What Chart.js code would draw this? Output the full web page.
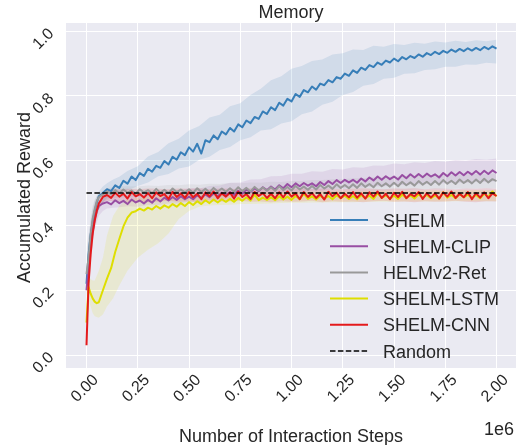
<!DOCTYPE html>
<html><head><meta charset="utf-8">
<script src="https://cdn.jsdelivr.net/npm/chart.js@4.4.1/dist/chart.umd.min.js"></script>
<style>html,body{margin:0;padding:0;background:#fff}canvas{display:block}</style>
</head><body>
<canvas id="c" width="516" height="445"></canvas>
<script>
// x values in units of 1e6 interaction steps
const steps = [0, 0.01, 0.02, 0.03, 0.04, 0.05, 0.06, 0.08,
 0.10, 0.12, 0.14, 0.16, 0.18, 0.20, 0.22, 0.24, 0.26, 0.28,
 0.30, 0.32, 0.34, 0.36, 0.38, 0.40, 0.42, 0.44, 0.46, 0.48,
 0.50, 0.52, 0.54, 0.56, 0.58, 0.60, 0.62, 0.64, 0.66, 0.68,
 0.70, 0.72, 0.74, 0.76, 0.78, 0.80, 0.82, 0.84, 0.86, 0.88,
 0.90, 0.92, 0.94, 0.96, 0.98, 1.00, 1.02, 1.04, 1.06, 1.08,
 1.10, 1.12, 1.14, 1.16, 1.18, 1.20, 1.22, 1.24, 1.26, 1.28,
 1.30, 1.32, 1.34, 1.36, 1.38, 1.40, 1.42, 1.44, 1.46, 1.48,
 1.50, 1.52, 1.54, 1.56, 1.58, 1.60, 1.62, 1.64, 1.66, 1.68,
 1.70, 1.72, 1.74, 1.76, 1.78, 1.80, 1.82, 1.84, 1.86, 1.88,
 1.90, 1.92, 1.94, 1.96, 1.98, 2.00];

const shelm = [0.22, 0.31, 0.37, 0.41, 0.445, 0.47, 0.49, 0.50,
 0.512, 0.506, 0.524, 0.516, 0.538, 0.529, 0.551, 0.540, 0.562, 0.553,
 0.575, 0.566, 0.584, 0.578, 0.599, 0.588, 0.612, 0.603, 0.626, 0.617,
 0.641, 0.628, 0.652, 0.622, 0.663, 0.657, 0.678, 0.666, 0.690, 0.681,
 0.701, 0.690, 0.712, 0.703, 0.724, 0.716, 0.735, 0.729, 0.752, 0.744,
 0.765, 0.756, 0.779, 0.770, 0.791, 0.783, 0.806, 0.797, 0.818, 0.811,
 0.829, 0.819, 0.838, 0.833, 0.849, 0.842, 0.858, 0.853, 0.869, 0.862,
 0.879, 0.871, 0.887, 0.880, 0.895, 0.889, 0.903, 0.896, 0.909, 0.903,
 0.915, 0.907, 0.920, 0.913, 0.923, 0.917, 0.928, 0.921, 0.932, 0.926,
 0.936, 0.929, 0.939, 0.933, 0.943, 0.936, 0.945, 0.938, 0.947, 0.940,
 0.948, 0.941, 0.951, 0.944, 0.953, 0.946];

const shelmClip = [0.20, 0.27, 0.34, 0.38, 0.42, 0.445, 0.46, 0.468,
 0.472, 0.465, 0.478, 0.469, 0.476, 0.466, 0.480, 0.471, 0.477, 0.468,
 0.479, 0.470, 0.484, 0.474, 0.486, 0.477, 0.488, 0.479, 0.490, 0.481,
 0.489, 0.481, 0.493, 0.485, 0.496, 0.487, 0.499, 0.490, 0.501, 0.493,
 0.503, 0.494, 0.507, 0.498, 0.511, 0.503, 0.515, 0.506, 0.518, 0.509,
 0.520, 0.511, 0.524, 0.515, 0.528, 0.518, 0.530, 0.521, 0.531, 0.523,
 0.530, 0.521, 0.534, 0.525, 0.537, 0.528, 0.540, 0.531, 0.541, 0.533,
 0.541, 0.532, 0.545, 0.536, 0.548, 0.539, 0.551, 0.541, 0.552, 0.543,
 0.551, 0.542, 0.556, 0.546, 0.558, 0.548, 0.559, 0.549, 0.560, 0.551,
 0.558, 0.548, 0.562, 0.552, 0.564, 0.554, 0.565, 0.555, 0.566, 0.557,
 0.568, 0.557, 0.569, 0.559, 0.570, 0.562];

const helmRet = [0.25, 0.30, 0.37, 0.42, 0.45, 0.475, 0.487, 0.496,
 0.505, 0.497, 0.509, 0.499, 0.511, 0.501, 0.508, 0.498, 0.512, 0.502,
 0.509, 0.499, 0.513, 0.501, 0.510, 0.500, 0.514, 0.503, 0.511, 0.502,
 0.512, 0.501, 0.515, 0.503, 0.513, 0.502, 0.516, 0.505, 0.514, 0.504,
 0.515, 0.504, 0.518, 0.506, 0.516, 0.505, 0.519, 0.508, 0.517, 0.507,
 0.518, 0.507, 0.521, 0.509, 0.519, 0.508, 0.522, 0.511, 0.520, 0.510,
 0.522, 0.511, 0.525, 0.514, 0.523, 0.513, 0.527, 0.516, 0.525, 0.515,
 0.527, 0.516, 0.530, 0.519, 0.528, 0.518, 0.532, 0.521, 0.530, 0.520,
 0.532, 0.521, 0.535, 0.524, 0.533, 0.523, 0.537, 0.526, 0.535, 0.525,
 0.537, 0.526, 0.540, 0.529, 0.538, 0.528, 0.542, 0.531, 0.540, 0.530,
 0.542, 0.531, 0.544, 0.533, 0.543, 0.537];

const shelmLstm = [0.10, 0.21, 0.19, 0.175, 0.165, 0.16, 0.163, 0.20,
 0.236, 0.268, 0.318, 0.358, 0.397, 0.424, 0.440, 0.444, 0.452, 0.446,
 0.455, 0.449, 0.460, 0.452, 0.462, 0.455, 0.466, 0.458, 0.469, 0.460,
 0.472, 0.463, 0.475, 0.466, 0.478, 0.469, 0.480, 0.471, 0.481, 0.473,
 0.482, 0.473, 0.485, 0.476, 0.487, 0.477, 0.495, 0.478, 0.486, 0.479,
 0.487, 0.478, 0.490, 0.480, 0.489, 0.479, 0.491, 0.481, 0.498, 0.482,
 0.490, 0.480, 0.492, 0.483, 0.491, 0.481, 0.493, 0.484, 0.492, 0.482,
 0.491, 0.481, 0.494, 0.484, 0.492, 0.482, 0.500, 0.485, 0.493, 0.483,
 0.492, 0.482, 0.495, 0.485, 0.493, 0.483, 0.496, 0.486, 0.494, 0.484,
 0.493, 0.483, 0.502, 0.486, 0.494, 0.484, 0.497, 0.487, 0.495, 0.485,
 0.494, 0.484, 0.498, 0.488, 0.505, 0.490];

const shelmCnn = [0.03, 0.22, 0.31, 0.375, 0.415, 0.445, 0.468, 0.488,
 0.494, 0.485, 0.501, 0.489, 0.498, 0.483, 0.503, 0.490, 0.497, 0.486,
 0.500, 0.484, 0.502, 0.491, 0.497, 0.482, 0.504, 0.488, 0.499, 0.485,
 0.503, 0.487, 0.498, 0.481, 0.502, 0.490, 0.505, 0.484, 0.499, 0.489,
 0.501, 0.483, 0.504, 0.488, 0.497, 0.482, 0.503, 0.491, 0.500, 0.485,
 0.498, 0.484, 0.502, 0.487, 0.505, 0.489, 0.499, 0.481, 0.503, 0.488,
 0.500, 0.485, 0.497, 0.480, 0.504, 0.490, 0.501, 0.484, 0.498, 0.487,
 0.503, 0.486, 0.499, 0.483, 0.502, 0.489, 0.505, 0.485, 0.498, 0.481,
 0.501, 0.488, 0.504, 0.484, 0.497, 0.490, 0.503, 0.482, 0.500, 0.486,
 0.499, 0.483, 0.502, 0.489, 0.505, 0.485, 0.498, 0.487, 0.503, 0.481,
 0.500, 0.486, 0.502, 0.484, 0.499, 0.491];

// confidence bands (x in 1e6 steps)
const bandSteps = [0, 0.01, 0.02, 0.03, 0.04, 0.06, 0.08, 0.10, 0.13, 0.16,
 0.20, 0.25, 0.30, 0.35, 0.40, 0.45, 0.50, 0.55, 0.60, 0.65,
 0.70, 0.75, 0.80, 0.85, 0.90, 0.95, 1.00, 1.05, 1.10, 1.15,
 1.20, 1.25, 1.30, 1.35, 1.40, 1.45, 1.50, 1.55, 1.60, 1.65,
 1.70, 1.75, 1.80, 1.85, 1.90, 1.95, 2.00];

const shelmHi = [0.28, 0.36, 0.41, 0.45, 0.475, 0.505, 0.52, 0.53, 0.542, 0.55,
 0.568, 0.583, 0.613, 0.627, 0.654, 0.668, 0.693, 0.707, 0.733, 0.742,
 0.768, 0.777, 0.803, 0.822, 0.848, 0.861, 0.884, 0.892, 0.908, 0.912,
 0.928, 0.932, 0.943, 0.942, 0.955, 0.952, 0.960, 0.957, 0.964, 0.961,
 0.968, 0.965, 0.970, 0.966, 0.972, 0.969, 0.973];
const shelmLo = [0.16, 0.25, 0.32, 0.37, 0.41, 0.45, 0.47, 0.485, 0.494, 0.50,
 0.508, 0.522, 0.533, 0.552, 0.559, 0.576, 0.582, 0.603, 0.612, 0.633,
 0.642, 0.663, 0.672, 0.693, 0.697, 0.715, 0.722, 0.743, 0.752, 0.773,
 0.782, 0.803, 0.812, 0.831, 0.837, 0.853, 0.856, 0.868, 0.870, 0.880,
 0.882, 0.890, 0.890, 0.897, 0.896, 0.902, 0.900];

const clipHi = [0.26, 0.32, 0.38, 0.42, 0.45, 0.475, 0.485, 0.49, 0.493, 0.494,
 0.497, 0.495, 0.502, 0.501, 0.508, 0.507, 0.515, 0.514, 0.522, 0.523,
 0.532, 0.533, 0.542, 0.543, 0.552, 0.553, 0.560, 0.560, 0.567, 0.566,
 0.574, 0.573, 0.580, 0.578, 0.585, 0.584, 0.591, 0.589, 0.595, 0.593,
 0.599, 0.597, 0.602, 0.600, 0.605, 0.603, 0.607];
const clipLo = [0.15, 0.22, 0.29, 0.34, 0.39, 0.43, 0.445, 0.452, 0.455, 0.456,
 0.459, 0.458, 0.463, 0.463, 0.468, 0.468, 0.473, 0.473, 0.479, 0.479,
 0.485, 0.485, 0.491, 0.492, 0.498, 0.498, 0.503, 0.503, 0.508, 0.508,
 0.513, 0.513, 0.517, 0.517, 0.521, 0.521, 0.525, 0.525, 0.528, 0.527,
 0.531, 0.530, 0.533, 0.532, 0.535, 0.534, 0.537];

const retHi = [0.33, 0.37, 0.42, 0.46, 0.48, 0.50, 0.508, 0.515, 0.518, 0.52,
 0.521, 0.520, 0.523, 0.522, 0.525, 0.524, 0.527, 0.526, 0.529, 0.528,
 0.531, 0.530, 0.533, 0.532, 0.535, 0.534, 0.537, 0.537, 0.540, 0.540,
 0.543, 0.543, 0.546, 0.546, 0.549, 0.548, 0.551, 0.551, 0.553, 0.553,
 0.555, 0.555, 0.557, 0.557, 0.559, 0.558, 0.561];
const retLo = [0.18, 0.24, 0.31, 0.37, 0.41, 0.45, 0.47, 0.48, 0.484, 0.486,
 0.487, 0.488, 0.489, 0.490, 0.490, 0.491, 0.491, 0.492, 0.492, 0.493,
 0.494, 0.494, 0.495, 0.496, 0.497, 0.497, 0.498, 0.499, 0.500, 0.501,
 0.502, 0.503, 0.504, 0.505, 0.506, 0.507, 0.508, 0.509, 0.510, 0.511,
 0.512, 0.512, 0.513, 0.514, 0.514, 0.515, 0.515];

const lstmHi = [0.14, 0.24, 0.235, 0.23, 0.23, 0.26, 0.30, 0.37, 0.43, 0.46,
 0.48, 0.485, 0.488, 0.49, 0.492, 0.494, 0.496, 0.497, 0.498, 0.499,
 0.50, 0.50, 0.501, 0.502, 0.502, 0.503, 0.503, 0.504, 0.504, 0.505,
 0.505, 0.505, 0.506, 0.506, 0.506, 0.507, 0.507, 0.507, 0.507, 0.508,
 0.508, 0.508, 0.508, 0.509, 0.509, 0.509, 0.510];
const lstmLo = [0.06, 0.17, 0.15, 0.13, 0.12, 0.115, 0.125, 0.15, 0.175, 0.215,
 0.26, 0.30, 0.325, 0.345, 0.375, 0.42, 0.445, 0.458, 0.462, 0.463,
 0.464, 0.466, 0.466, 0.467, 0.468, 0.469, 0.470, 0.470, 0.471, 0.471,
 0.472, 0.472, 0.472, 0.473, 0.473, 0.473, 0.473, 0.474, 0.474, 0.474,
 0.474, 0.474, 0.475, 0.475, 0.475, 0.475, 0.475];

const cnnHi = [0.05, 0.26, 0.34, 0.40, 0.435, 0.485, 0.503, 0.51, 0.512, 0.512,
 0.513, 0.512, 0.514, 0.513, 0.512, 0.514, 0.513, 0.515, 0.512, 0.514,
 0.513, 0.512, 0.515, 0.513, 0.514, 0.512, 0.513, 0.515, 0.512, 0.514,
 0.513, 0.512, 0.514, 0.515, 0.513, 0.512, 0.514, 0.513, 0.515, 0.512,
 0.514, 0.513, 0.512, 0.514, 0.513, 0.515, 0.513];
const cnnLo = [0.015, 0.18, 0.28, 0.35, 0.395, 0.45, 0.472, 0.476, 0.475, 0.474,
 0.473, 0.475, 0.472, 0.474, 0.476, 0.473, 0.475, 0.472, 0.474, 0.473,
 0.475, 0.476, 0.473, 0.474, 0.472, 0.475, 0.473, 0.474, 0.476, 0.472,
 0.475, 0.473, 0.474, 0.472, 0.475, 0.476, 0.473, 0.474, 0.472, 0.475,
 0.473, 0.474, 0.476, 0.473, 0.472, 0.475, 0.474];

const randomX = [0, 2.0];
const randomY = [0.5, 0.5];

const seriesNames = ['SHELM', 'SHELM-CLIP', 'HELMv2-Ret', 'SHELM-LSTM', 'SHELM-CNN'];
const randomName = 'Random';
const xTickValues = [0, 0.25, 0.5, 0.75, 1.0, 1.25, 1.5, 1.75, 2.0];
const xTickLabels = ['0.00', '0.25', '0.50', '0.75', '1.00', '1.25', '1.50', '1.75', '2.00'];
const yTickValues = [0, 0.2, 0.4, 0.6, 0.8, 1.0];
const yTickLabels = ['0.0', '0.2', '0.4', '0.6', '0.8', '1.0'];
const titleText = 'Memory';
const xTitle = 'Number of Interaction Steps';
const yTitle = 'Accumulated Reward';
const xOffsetText = '1e6';

const FONT = '"Liberation Sans", Arial, sans-serif';
const TEXT = '#262626';
const colors = ['#377eb8', '#984ea3', '#999999', '#dede00', '#e41a1c'];
const bandColors = ['rgba(55,126,184,0.14)', 'rgba(152,78,163,0.12)', 'rgba(153,153,153,0.14)', 'rgba(222,222,0,0.13)', 'rgba(228,26,28,0.13)'];

function pts(xs, ys) { return xs.map((x, i) => ({ x: x, y: ys[i] })); }

const means = [shelm, shelmClip, helmRet, shelmLstm, shelmCnn];
const his = [shelmHi, clipHi, retHi, lstmHi, cnnHi];
const los = [shelmLo, clipLo, retLo, lstmLo, cnnLo];

const datasets = [];
// first dataset is drawn on top
datasets.push({ label: randomName, data: pts(randomX, randomY), borderColor: '#000', borderWidth: 1.5,
  borderDash: [5.5, 2.4], pointRadius: 0, fill: false });
for (let k = 4; k >= 0; k--) {
  datasets.push({ label: seriesNames[k], data: pts(steps, means[k]), borderColor: colors[k], borderWidth: 2,
    borderJoinStyle: 'round', pointRadius: 0, fill: false });
}
for (let k = 4; k >= 0; k--) {
  datasets.push({ label: seriesNames[k] + ' hi', data: pts(bandSteps, his[k]), borderColor: 'transparent', borderWidth: 0,
    pointRadius: 0, fill: '+1', backgroundColor: bandColors[k] });
  datasets.push({ label: seriesNames[k] + ' lo', data: pts(bandSteps, los[k]), borderColor: 'transparent', borderWidth: 0,
    pointRadius: 0, fill: false });
}

const deco = {
  id: 'deco',
  beforeDraw(chart) {
    const { ctx, chartArea: a } = chart;
    ctx.save();
    ctx.fillStyle = '#eaeaf2';
    ctx.fillRect(a.left, a.top, a.right - a.left, a.bottom - a.top);
    ctx.restore();
  },
  afterDraw(chart) {
    const { ctx, chartArea: a } = chart;
    const xs = chart.scales.x, ys = chart.scales.y;
    ctx.save();
    ctx.fillStyle = TEXT;
    // title
    ctx.font = '18px ' + FONT;
    ctx.textAlign = 'center';
    ctx.textBaseline = 'alphabetic';
    ctx.fillText(titleText, (a.left + a.right) / 2, 18);
    // x title
    ctx.fillText(xTitle, (a.left + a.right) / 2, 442);
    // offset text
    ctx.textAlign = 'right';
    ctx.fillText(xOffsetText, 514, 435);
    // y title
    ctx.save();
    ctx.translate(30, (a.top + a.bottom) / 2 + 2);
    ctx.rotate(-Math.PI / 2);
    ctx.textAlign = 'center';
    ctx.fillText(yTitle, 0, 0);
    ctx.restore();
    // tick labels
    ctx.font = '16px ' + FONT;
    ctx.textAlign = 'center';
    ctx.textBaseline = 'middle';
    xTickValues.forEach((v, i) => {
      ctx.save();
      ctx.translate(xs.getPixelForValue(v) - 1.5, a.bottom + 20.5);
      ctx.rotate(-Math.PI / 4);
      ctx.fillText(xTickLabels[i], 0, 0);
      ctx.restore();
    });
    yTickValues.forEach((v, i) => {
      ctx.save();
      ctx.translate(a.left - 22.5, ys.getPixelForValue(v) + 8);
      ctx.rotate(-Math.PI / 4);
      ctx.fillText(yTickLabels[i], 0, 0);
      ctx.restore();
    });
    // legend
    const names = seriesNames.concat([randomName]);
    const lcols = colors.concat(['#000']);
    ctx.font = '18px ' + FONT;
    ctx.textAlign = 'left';
    ctx.textBaseline = 'alphabetic';
    names.forEach((n, i) => {
      const y = 220 + 26.2 * i;
      ctx.save();
      ctx.strokeStyle = lcols[i];
      ctx.lineWidth = i === 5 ? 1.5 : 2;
      if (i === 5) ctx.setLineDash([5.5, 2.4]);
      ctx.beginPath();
      ctx.moveTo(330, y);
      ctx.lineTo(368, y);
      ctx.stroke();
      ctx.restore();
      ctx.fillStyle = TEXT;
      ctx.fillText(n, 383, y + 6.5);
    });
    ctx.restore();
  }
};

new Chart(document.getElementById('c'), {
  type: 'line',
  data: { datasets: datasets },
  options: {
    responsive: false,
    animation: false,
    devicePixelRatio: 1,
    layout: { padding: { left: 66, right: 0, top: 23, bottom: 77 } },
    plugins: { legend: { display: false }, tooltip: { enabled: false }, title: { display: false } },
    elements: { line: { tension: 0 } },
    scales: {
      x: { type: 'linear', min: -0.1, max: 2.095,
        ticks: { display: false, stepSize: 0.25, includeBounds: false },
        grid: { color: '#ffffff', lineWidth: 1, drawTicks: false },
        border: { display: false } },
      y: { type: 'linear', min: -0.04, max: 1.025,
        ticks: { display: false, stepSize: 0.2, includeBounds: false },
        grid: { color: '#ffffff', lineWidth: 1, drawTicks: false },
        border: { display: false } }
    }
  },
  plugins: [deco]
});
</script>
</body></html>
